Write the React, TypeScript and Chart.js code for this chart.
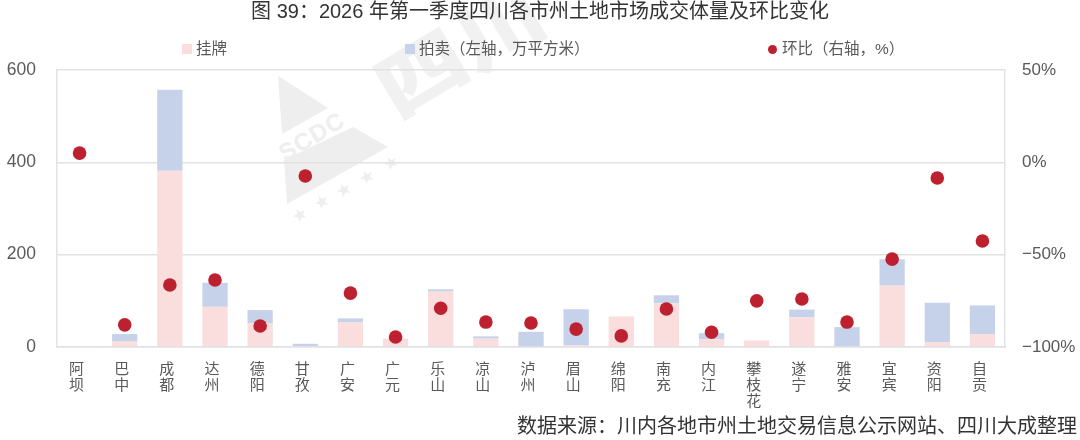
import { useEffect, useRef } from 'react';
import Chart from 'chart.js/auto';

const FONT = '"Liberation Sans", "Noto Sans CJK SC", sans-serif';

const cities = ['阿坝', '巴中', '成都', '达州', '德阳', '甘孜', '广安', '广元', '乐山', '凉山', '泸州', '眉山', '绵阳', '南充', '内江', '攀枝花', '遂宁', '雅安', '宜宾', '资阳', '自贡'];
const listed = [0.5, 13, 382, 87, 51, 2, 54, 18, 120, 18, 1, 3, 66, 95, 17, 14, 64, 0, 133, 10, 28];
const auction = [0.5, 15, 175, 52, 29, 5, 8, 0, 5, 5, 32, 79, 0, 17, 13, 0, 17, 43, 57, 86, 62];
const change = [5, -88, -66.4, -63.7, -88.6, -7.4, -70.8, -94.6, -79, -86.5, -87, -90.3, -94, -79.4, -92, -75, -74, -86.5, -52.4, -8.5, -42.6];

const leftTicks = [0, 200, 400, 600];
const rightTicks = [-100, -50, 0, 50];

const GRID = '#e2e2e4';
const TEXT = '#595959';
const PINK = '#f9dedd';
const BLUE = '#c5d2ea';
const RED = '#bd202e';
const MARK = '#eeeeee';

// 水印的五角星
const Star = ({ x, y }: { x: number; y: number }) => (
    <polygon
        transform={`translate(${x} ${y}) rotate(-30)`}
        fill={MARK}
        points="0,-7 1.8,-2.2 6.8,-2.2 2.8,0.9 4.2,5.7 0,2.9 -4.2,5.7 -2.8,0.9 -6.8,-2.2 -1.8,-2.2"
    />
);

const Watermark = () => (
    <svg width={1080} height={440} style={{ position: 'absolute', left: 0, top: 0 }}>
        <polygon points="278,76 328,108 282,134" fill={MARK} />
        <polygon points="353,127 388,147 287,204 284,160" fill={MARK} />
        <text x={285} y={162} transform="rotate(-31 285 162)" fill={MARK} style={{ fontFamily: FONT, fontSize: 24, fontWeight: 700, letterSpacing: 1 }}>SCDC</text>
        <Star x={300} y={215} />
        <Star x={322} y={202} />
        <Star x={344} y={190} />
        <Star x={367} y={177} />
        <Star x={391} y={163} />
        <text transform="translate(403 119) rotate(-31) scale(1.2 1)" x={-5} y={-2} fill="#f1f1f1" style={{ fontFamily: '"Noto Sans CJK SC"', fontSize: 76, fontWeight: 900 }}>四川</text>
    </svg>
);

const legendText = { position: 'absolute', top: 40, color: TEXT, fontFamily: FONT, fontSize: 15.5, lineHeight: '18px', whiteSpace: 'nowrap' } as const;

const App = () => {
    const chartRef = useRef<HTMLCanvasElement | null>(null);

    useEffect(() => {
        if (!chartRef.current) return;
        const chart = new Chart(chartRef.current, {
            type: 'bar',
            data: {
                labels: cities.map((c) => c.split('')),
                datasets: [
                    { type: 'bar', label: '挂牌', data: listed, backgroundColor: PINK, yAxisID: 'y', order: 2, barPercentage: 0.56, categoryPercentage: 1 },
                    { type: 'bar', label: '拍卖（左轴，万平方米）', data: auction, backgroundColor: BLUE, yAxisID: 'y', order: 2, barPercentage: 0.56, categoryPercentage: 1 },
                    { type: 'line', label: '环比（右轴，%）', data: change, showLine: false, backgroundColor: RED, borderColor: RED, pointRadius: 6.8, pointBorderWidth: 0, yAxisID: 'y2', order: 1 },
                ],
            } as any,
            options: {
                animation: false,
                responsive: false,
                devicePixelRatio: 1,
                layout: { padding: { left: 3, right: 3, top: 0, bottom: 0 } },
                plugins: {
                    tooltip: { enabled: false },
                    legend: { display: false },
                    title: {
                        display: true,
                        text: '图 39：2026 年第一季度四川各市州土地市场成交体量及环比变化',
                        color: '#333333',
                        font: { family: FONT, size: 20, weight: 'normal' },
                        padding: { top: 0, bottom: 46 },
                    },
                    subtitle: {
                        display: true,
                        position: 'bottom',
                        align: 'end',
                        text: '数据来源：川内各地市州土地交易信息公示网站、四川大成整理',
                        color: '#333333',
                        font: { family: FONT, size: 20, weight: 'normal' },
                        padding: { top: 0, bottom: 1 },
                    },
                },
                scales: {
                    x: {
                        stacked: true,
                        afterFit: (axis: any) => { axis.height = 68; },
                        grid: { display: false, drawTicks: false },
                        border: { color: GRID, width: 1.5 },
                        ticks: { color: TEXT, font: { family: FONT, size: 15, lineHeight: 1.07 }, maxRotation: 0, autoSkip: false, padding: 15, labelOffset: -3 },
                    },
                    y: {
                        stacked: true,
                        min: 0,
                        max: 600,
                        position: 'left',
                        afterFit: (axis: any) => { axis.width = 54; },
                        afterBuildTicks: (axis: any) => { axis.ticks = leftTicks.map((value) => ({ value })); },
                        grid: { color: GRID, lineWidth: 1.5, drawTicks: false },
                        border: { color: GRID, width: 1.5 },
                        ticks: { color: TEXT, font: { family: FONT, size: 17.5 }, padding: 21 },
                    },
                    y2: {
                        min: -100,
                        max: 50,
                        position: 'right',
                        afterFit: (axis: any) => { axis.width = 72; },
                        afterBuildTicks: (axis: any) => { axis.ticks = rightTicks.map((value) => ({ value })); },
                        grid: { display: false, drawTicks: false },
                        border: { color: GRID, width: 1.5 },
                        ticks: {
                            color: TEXT,
                            font: { family: FONT, size: 17 },
                            padding: 17,
                            callback: (v: any) => `${v < 0 ? '−' : ''}${Math.abs(v)}%`,
                        },
                    },
                },
            },
        });
        return () => chart.destroy();
    }, []);

    return (
        <div style={{ position: 'absolute', left: 0, top: 0, width: 1080, height: 440, background: '#fff', overflow: 'hidden' }}>
            <Watermark />
            <canvas ref={chartRef} width={1080} height={440} style={{ position: 'absolute', left: 0, top: 0 }} />
            <div style={{ position: 'absolute', left: 182, top: 44, width: 10, height: 10, background: PINK }} />
            <div style={{ ...legendText, left: 196 }}>挂牌</div>
            <div style={{ position: 'absolute', left: 405, top: 44, width: 10, height: 10, background: BLUE }} />
            <div style={{ ...legendText, left: 419 }}>拍卖（左轴，万平方米）</div>
            <div style={{ position: 'absolute', left: 768, top: 45, width: 9, height: 9, borderRadius: '50%', background: RED }} />
            <div style={{ ...legendText, left: 782 }}>环比（右轴，%）</div>
        </div>
    );
};

export default App;
